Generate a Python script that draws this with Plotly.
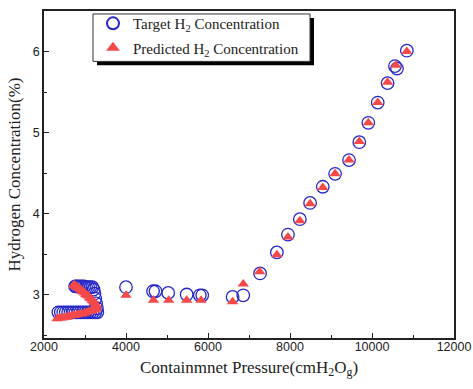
import plotly.graph_objects as go

# Target H2 concentration (open circles)
target_x = [2350, 2410, 2470, 2530, 2590, 2650, 2710, 2770, 2830, 2890, 2950, 3010, 3070, 3130, 3190, 3250, 3300,
            3290, 3270, 3250, 3230, 3210,
            3180, 3130, 3080, 3030, 2980, 2930, 2880, 2830, 2790, 2760,
            4000, 4660, 4720, 5030, 5480, 5800, 5860, 6600, 6860,
            7270, 7680, 7950, 8240, 8490, 8800, 9100, 9440, 9690, 9910, 10140, 10380, 10560, 10610, 10850]
target_y = [2.78, 2.78, 2.78, 2.78, 2.78, 2.78, 2.78, 2.78, 2.78, 2.78, 2.78, 2.78, 2.78, 2.78, 2.78, 2.78, 2.78,
            2.83, 2.89, 2.95, 3.01, 3.06,
            3.09, 3.09, 3.09, 3.09, 3.10, 3.10, 3.10, 3.10, 3.10, 3.10,
            3.09, 3.04, 3.04, 3.02, 3.00, 2.99, 2.99, 2.97, 2.99,
            3.26, 3.52, 3.74, 3.93, 4.13, 4.33, 4.49, 4.66, 4.88, 5.12, 5.37, 5.61, 5.82, 5.79, 6.01]

# Predicted H2 concentration (filled triangles)
pred_x = [2320, 2380, 2440, 2500, 2560, 2620, 2680, 2740, 2800, 2860, 2920, 2980, 3040, 3100, 3160, 3220, 3280,
          3290, 3260, 3230, 3200, 3170, 3140, 3110, 3080, 3050, 3020, 2990, 2960, 2930, 2900, 2870, 2840, 2810, 2780, 2750, 2730,
          4000, 4670, 5040, 5480, 5830, 6600, 6860,
          7260, 7680, 7950, 8240, 8490, 8800, 9100, 9440, 9690, 9910, 10140, 10380, 10580, 10850]
pred_y = [2.70, 2.71, 2.71, 2.72, 2.72, 2.73, 2.74, 2.74, 2.75, 2.76, 2.76, 2.77, 2.78, 2.79, 2.80, 2.81, 2.82,
          2.86, 2.88, 2.90, 2.92, 2.93, 2.95, 2.96, 2.98, 2.99, 3.00, 3.02, 3.03, 3.04, 3.06, 3.07, 3.08, 3.09, 3.10, 3.11, 3.12,
          2.99, 2.93, 2.93, 2.93, 2.93, 2.91, 3.13,
          3.28, 3.49, 3.71, 3.91, 4.12, 4.32, 4.49, 4.66, 4.89, 5.12, 5.37, 5.62, 5.83, 6.00]

x_ticks = [2000, 4000, 6000, 8000, 10000, 12000]
x_tick_labels = ["2000", "4000", "6000", "8000", "10000", "12000"]
y_ticks = [3, 4, 5, 6]
y_tick_labels = ["3", "4", "5", "6"]

fig = go.Figure()
fig.add_trace(go.Scatter(
    x=target_x, y=target_y, mode="markers", name="Target H<sub>2</sub> Concentration",
    legendgroup="t",
    marker=dict(symbol="circle-open", size=12.5, color="#2828c8", line=dict(width=1.3, color="#2828c8"))))
fig.add_trace(go.Scatter(
    x=pred_x, y=pred_y, mode="markers", name="Predicted H<sub>2</sub> Concentration",
    legendgroup="p",
    marker=dict(symbol="triangle-up", size=10, color="#f54848", line=dict(width=0))))

axis_common = dict(showline=True, linecolor="#222", linewidth=1.5, mirror=True, showgrid=False,
                   zeroline=False, ticks="inside", ticklen=5, tickwidth=1, tickcolor="#222",
                   automargin=False,
                   tickfont=dict(family="Liberation Sans", size=12.5, color="#222"))

fig.update_xaxes(range=[2000, 12000], tickvals=x_ticks, ticktext=x_tick_labels,
                 ticklabelstandoff=-4,
                 minor=dict(ticks="inside", ticklen=3, dtick=1000, tick0=2000, tickcolor="#222"),
                 title=dict(text="Containmnet Pressure(cmH<sub>2</sub>O<sub>g</sub>)",
                            font=dict(family="Liberation Serif", size=17, color="#222"), standoff=8),
                 **axis_common)
fig.update_yaxes(range=[2.463, 6.5], tickvals=y_ticks, ticktext=y_tick_labels,
                 minor=dict(ticks="inside", ticklen=3, dtick=0.5, tick0=2.5, tickcolor="#222"),
                 title=dict(text="Hydrogen Concentration(%)",
                            font=dict(family="Liberation Serif", size=17, color="#222"), standoff=8),
                 **axis_common)

# legend frame with drop shadow
fig.add_shape(type="rect", xref="paper", yref="paper", x0=0.1293, x1=0.6585, y0=0.8338, y1=0.9789,
              fillcolor="black", line=dict(width=0), layer="above")
fig.add_shape(type="rect", xref="paper", yref="paper", x0=0.1195, x1=0.6488, y0=0.8459, y1=0.9909,
              fillcolor="white", line=dict(width=1, color="#333"), layer="above")

fig.update_layout(
    width=473, height=389, margin=dict(l=44, r=19, t=7, b=51),
    plot_bgcolor="white", paper_bgcolor="white", showlegend=True,
    legend=dict(x=0.1195, y=1.012, xanchor="left", yanchor="top", bgcolor="rgba(0,0,0,0)",
                borderwidth=0, traceorder="grouped",
                font=dict(family="Liberation Serif", size=15, color="#222"),
                tracegroupgap=2, itemsizing="constant"),
)

fig.write_html("out.html", config={"displayModeBar": False},
               post_script="document.body.style.margin='0';document.body.style.overflow='hidden';")
